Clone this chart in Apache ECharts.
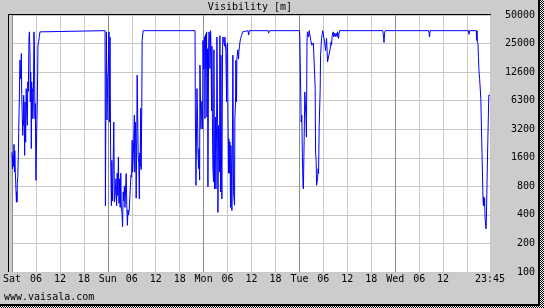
<!DOCTYPE html>
<html>
<head>
<meta charset="utf-8">
<script src="https://cdn.jsdelivr.net/npm/echarts@6/dist/echarts.min.js"></script>
<style>
html,body{margin:0;padding:0;background:#cccccc;}
#c{width:544px;height:308px;}
</style>
</head>
<body>
<div id="c"></div>
<script>
// ---- data (hours since Sat 00:00, visibility in metres) ----
const titleText = 'Visibility [m]';
const footerText = 'www.vaisala.com';
const xTickLabels = ['Sat','06','12','18','Sun','06','12','18','Mon','06','12','18','Tue','06','12','18','Wed','06','12',''];
const xEndLabel = '23:45';
const xMax = 119.75;
const yTickValues = [100,200,400,800,1600,3200,6400,12800,25600,51200];
const yTickLabels = ['100','200','400','800','1600','3200','6300','12600','25000','50000'];

const satData = [[0,1840],[0.1,1225],[0.2,1700],[0.33,1300],[0.5,2216],[0.6,1130],[0.7,1900],[0.83,1130],[1.0,1130],[1.1,545],[1.2,700],[1.25,545],[1.33,886],[1.45,1000],[1.58,1763],[1.67,1763],[1.83,7000],[2.0,17100],[2.1,10900],[2.17,12000],[2.25,14500],[2.33,20100],[2.42,7600],[2.58,7300],[2.67,2760],[2.75,4000],[2.83,3520],[2.92,7300],[3.0,5000],[3.17,1695],[3.25,6200],[3.33,3000],[3.42,2340],[3.55,8560],[3.67,5000],[3.83,3520],[3.95,10100],[4.08,8000],[4.25,29000],[4.35,34000],[4.5,20000],[4.58,6200],[4.67,12800],[4.75,9000],[4.83,2000],[4.92,10100],[5.0,8000],[5.08,8560],[5.2,4130],[5.33,6000],[5.5,34000],[5.6,24600],[5.75,4130],[5.83,6000],[6.0,925],[6.17,3000],[6.33,5730],[6.5,24600],[6.67,26700],[6.83,30200],[7.0,34000],[7.25,35000]];

const sunData = [[23.3,35000],[23.4,500],[23.5,4300],[23.65,34000],[23.8,4000],[24.0,11900],[24.1,13000],[24.3,34000],[24.4,3800],[24.55,30000],[24.7,1840],[24.9,500],[25.0,1500],[25.1,1570],[25.2,560],[25.35,570],[25.5,3800],[25.65,545],[25.8,620],[25.9,640],[26.05,960],[26.2,500],[26.35,1100],[26.5,640],[26.65,1630],[26.8,530],[26.95,960],[27.1,480],[27.25,1100],[27.4,460],[27.55,425],[27.7,300],[27.85,700],[28.0,560],[28.15,800],[28.3,480],[28.45,750],[28.6,1090],[28.75,500],[28.9,310],[29.05,450],[29.2,400],[29.35,450],[29.5,430],[29.65,440],[29.8,1050],[29.95,1000],[30.1,2450],[30.2,1130],[30.35,1500],[30.5,1450],[30.65,4500],[30.75,1130],[30.9,3800],[31.0,2600],[31.1,600],[31.25,2600],[31.35,11900],[31.5,4000],[31.6,1700],[31.75,1400],[31.9,590],[32.0,1800],[32.1,1300],[32.25,5300],[32.35,1200],[32.5,5100],[32.6,27600],[32.75,28000],[32.85,35000]];

const monData = [[45.85,35000],[45.92,5400],[46.08,820],[46.33,8560],[46.5,3800],[46.58,1840],[46.75,1230],[46.83,2000],[47.0,930],[47.08,15200],[47.25,4870],[47.33,3230],[47.5,5300],[47.58,6300],[47.75,3230],[47.83,27600],[48.0,13900],[48.08,25000],[48.25,30200],[48.33,4130],[48.5,32000],[48.58,14000],[48.75,34000],[48.83,4300],[49.0,22600],[49.08,790],[49.25,23000],[49.33,34000],[49.5,30000],[49.58,14000],[49.75,35000],[49.83,25000],[50.0,5000],[50.08,24000],[50.25,2170],[50.33,1230],[50.5,890],[50.58,22000],[50.75,750],[50.83,1040],[51.0,4300],[51.08,750],[51.25,3500],[51.33,30000],[51.5,3700],[51.58,425],[51.75,3500],[51.83,3100],[52.0,1130],[52.08,31000],[52.25,700],[52.33,19300],[52.5,1090],[52.58,590],[52.75,24000],[52.83,30000],[53.0,28000],[53.08,26000],[53.25,24000],[53.33,30000],[53.5,31000],[53.58,21000],[53.75,6200],[53.83,24000],[54.0,26000],[54.08,6200],[54.25,1100],[54.33,2530],[54.5,1100],[54.58,2350],[54.75,480],[54.83,2150],[55.0,1100],[55.08,445],[55.25,4130],[55.33,19300],[55.5,700],[55.58,610],[55.75,505],[55.83,4130],[56.0,6200],[56.08,17000],[56.25,6200],[56.33,17500],[56.5,17000],[56.58,22000],[56.75,17500],[56.83,21000],[57.0,24000],[57.08,26000],[57.25,29000],[57.5,31000],[57.75,34000],[57.83,35000],[59.1,35000],[59.3,31500],[59.45,35000],[64.1,35000],[64.3,33000],[64.45,35000]];

const tueData = [[72.0,35000],[72.1,30000],[72.2,16400],[72.35,16400],[72.45,3800],[72.6,4500],[72.75,1600],[72.9,820],[73.0,750],[73.1,760],[73.2,2700],[73.35,7900],[73.5,8100],[73.65,4300],[73.75,2640],[73.9,26700],[74.0,34000],[74.15,35000],[74.3,30000],[74.45,35000],[74.6,34000],[74.75,34000],[74.85,27600],[75.0,26700],[75.1,24600],[75.25,23500],[75.35,24600],[75.5,26000],[75.6,25000],[75.75,26000],[75.85,25000],[75.95,8560],[76.05,1800],[76.2,1500],[76.3,820],[76.45,790],[76.55,960],[76.7,1230],[76.8,1090],[76.95,3400],[77.05,3400],[77.2,8200],[77.3,19300],[77.45,24600],[77.55,29000],[77.7,32000],[77.85,35000],[78.15,35000],[78.3,26700],[78.45,26700],[78.55,21600],[78.7,21000],[78.8,29000],[78.95,29000],[79.05,16400],[79.2,17000],[79.35,17000],[79.45,16500],[79.55,17000],[79.7,22500],[79.8,24600],[79.95,26700],[80.05,24600],[80.2,30200],[80.3,31500],[80.45,34000],[80.55,30200],[80.7,33000],[80.8,31500],[80.95,30200],[81.05,30200],[81.2,33000],[81.3,31500],[81.45,30200],[81.55,34000],[81.7,31500],[81.8,29000],[81.95,33000],[82.05,35000],[82.2,35000],[92.9,35000],[93.1,29000],[93.2,26300],[93.35,33000],[93.5,35000]];

const wedData = [[104.4,35000],[104.6,30000],[104.75,35000],[114.35,35000],[114.5,32000],[114.65,35000],[116.3,35000],[116.4,27600],[116.5,35000],[116.6,26700],[116.75,25000],[116.85,18600],[117.0,13000],[117.15,11000],[117.3,11000],[117.45,6700],[117.6,6700],[117.75,1760],[117.9,1760],[118.0,590],[118.1,500],[118.2,620],[118.3,500],[118.4,600],[118.5,380],[118.6,370],[118.75,285],[118.85,380],[119.0,380],[119.15,1840],[119.3,1800],[119.45,7300],[119.75,7300]];

const seriesData = [].concat(satData, sunData, monData, tueData, wedData);

// ---- chart ----
const pc = document.createElement('canvas');
pc.width = 2; pc.height = 2;
const pctx = pc.getContext('2d');
pctx.fillStyle = '#ffffff'; pctx.fillRect(0,0,2,2);
pctx.fillStyle = '#000000'; pctx.fillRect(0,0,1,1); pctx.fillRect(1,1,1,1);

const FONT = 'DejaVu Sans Mono';
const chart = echarts.init(document.getElementById('c'), null, {renderer: 'canvas'});
chart.setOption({
  animation: false,
  backgroundColor: '#cccccc',
  title: {
    text: titleText, left: 250, top: 1, padding: 0, textAlign: 'center',
    textStyle: {fontFamily: FONT, fontSize: 10, fontWeight: 'normal', color: '#000', lineHeight: 12}
  },
  grid: {left: 10, right: 54, top: 15, bottom: 36, show: true, backgroundColor: '#ffffff', borderWidth: 0, containLabel: false},
  xAxis: {
    type: 'value', min: 0, max: xMax, interval: 6,
    axisLine: {show: false}, axisTick: {show: false},
    splitLine: {show: true, showMaxLine: false, lineStyle: {color: ['#8c8c8c','#c8c8c8','#c8c8c8','#c8c8c8'], width: 1}},
    axisLabel: {
      margin: 2, showMaxLabel: true, showMinLabel: true,
      fontFamily: FONT, fontSize: 10, color: '#000',
      formatter: function (v) {
        if (Math.abs(v - xMax) < 1e-6) return xEndLabel;
        const i = Math.round(v / 6);
        return xTickLabels[i] !== undefined ? xTickLabels[i] : '';
      }
    }
  },
  yAxis: {
    type: 'log', logBase: 2, min: 100, max: 51200, position: 'right',
    axisLine: {show: false},
    axisTick: {show: false, customValues: yTickValues},
    splitLine: {show: true, lineStyle: {color: '#c8c8c8', width: 1}},
    axisLabel: {
      customValues: yTickValues,
      margin: 45, align: 'right',
      fontFamily: FONT, fontSize: 10, color: '#000',
      formatter: function (v) {
        let best = 0, bd = Infinity;
        for (let i = 0; i < yTickValues.length; i++) {
          const d = Math.abs(Math.log(v / yTickValues[i]));
          if (d < bd) { bd = d; best = i; }
        }
        return yTickLabels[best];
      }
    }
  },
  graphic: [
    {type: 'rect', z: 100, shape: {x: 8, y: 14, width: 1, height: 258}, style: {fill: '#000'}},
    {type: 'rect', z: 100, shape: {x: 8, y: 14, width: 483, height: 1}, style: {fill: '#000'}},
    {type: 'rect', z: 100, shape: {x: 490, y: 15, width: 1, height: 257}, style: {fill: '#c8c8c8'}},
    {type: 'rect', z: 100, shape: {x: 538, y: 0, width: 2, height: 306}, style: {fill: '#000'}},
    {type: 'rect', z: 100, shape: {x: 0, y: 304, width: 540, height: 2}, style: {fill: '#000'}},
    {type: 'rect', z: 100, shape: {x: 540, y: 0, width: 4, height: 308}, style: {fill: {image: pc, repeat: 'repeat'}}},
    {type: 'rect', z: 100, shape: {x: 0, y: 306, width: 544, height: 2}, style: {fill: {image: pc, repeat: 'repeat'}}},
    {type: 'text', z: 100, x: 4, y: 297, style: {text: footerText, font: '10px "DejaVu Sans Mono"', fill: '#000', align: 'left', verticalAlign: 'middle'}}
  ],
  series: [{
    type: 'line', data: seriesData, showSymbol: false, symbol: 'none',
    lineStyle: {color: '#0000ff', width: 1}, itemStyle: {color: '#0000ff'},
    clip: true
  }]
});
</script>
</body>
</html>
